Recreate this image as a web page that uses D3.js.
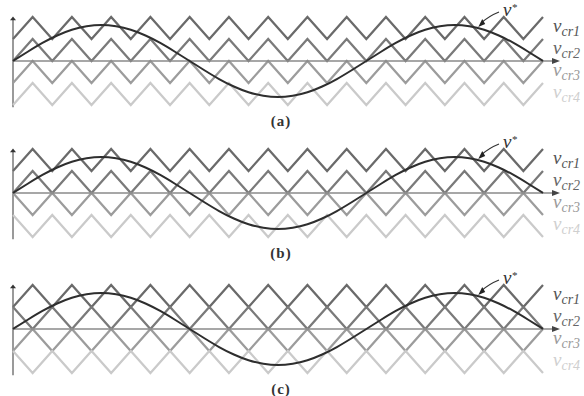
<!DOCTYPE html>
<html>
<head>
<meta charset="utf-8">
<script src="https://cdn.jsdelivr.net/npm/d3@7"></script>
<style>
  body { margin: 0; background: #fff; }
  svg { display: block; }
  .serif { font-family: "Liberation Serif", "DejaVu Serif", serif; }
</style>
</head>
<body>
<svg id="chart" width="584" height="396"></svg>
<script>
// panel captions and the carrier arrangement of each panel
const panelLabels = ["(a)", "(b)", "(c)"];
const panelZero = [61, 193, 329];           // pixel row of the zero line per panel
// 1 = carrier starts at the bottom of its band at the origin, 0 = starts at the top
const carrierStartsLow = [
  [1, 1, 1, 1],   // (a) phase disposition
  [1, 1, 0, 0],   // (b) phase opposition disposition
  [1, 0, 1, 0]    // (c) alternate phase opposition disposition
];
const carrierNames = ["cr1", "cr2", "cr3", "cr4"];
const carrierBands = [[1, 2], [0, 1], [-1, 0], [-2, -1]];
const carrierColors = ["#6a6a6a", "#7a7a7a", "#9c9c9c", "#cacaca"];
const labelColors = ["#555", "#666", "#9a9a9a", "#cfcfcf"];

// carrier vertex angles (deg) : carrier is 9x the reference, so a vertex every 20 deg
const carrierVertexDeg = d3.range(0, 541, 20);

// reference v* read every 15 deg from 0 to 540 deg (band units)
const refDeg = d3.range(0, 541, 15);
const refVal = [
  0, 0.42, 0.82, 1.16, 1.42, 1.58, 1.64, 1.58, 1.42, 1.16, 0.82, 0.42,
  0, -0.42, -0.82, -1.16, -1.42, -1.58, -1.64, -1.58, -1.42, -1.16, -0.82, -0.42,
  0, 0.42, 0.82, 1.16, 1.42, 1.58, 1.64, 1.58, 1.42, 1.16, 0.82, 0.42, 0
];

const svg = d3.select("#chart");

const x = d3.scaleLinear().domain([0, 540]).range([13, 543]);

panelLabels.forEach((lab, p) => {
  const z = panelZero[p];
  const y = d3.scaleLinear().domain([-2, 2]).range([z + 44, z - 44]);
  const g = svg.append("g");

  // y axis with arrow
  g.append("line")
    .attr("x1", x(0)).attr("x2", x(0))
    .attr("y1", y(-2.1)).attr("y2", y(1.9))
    .attr("stroke", "#9a9a9a").attr("stroke-width", 2);
  g.append("path")
    .attr("d", `M${x(0) - 3},${y(1.85)} L${x(0) + 3},${y(1.85)} L${x(0)},${y(2.02)} Z`)
    .attr("fill", "#333");

  // carriers
  carrierNames.forEach((name, i) => {
    const [lo, hi] = carrierBands[i];
    const low = carrierStartsLow[p][i];
    const pts = carrierVertexDeg.map((d, k) => [d, (k % 2 === 0) === (low === 1) ? lo : hi]);
    g.append("path")
      .datum(pts)
      .attr("fill", "none")
      .attr("stroke", carrierColors[i])
      .attr("stroke-width", 2.2)
      .attr("d", d3.line().x(d => x(d[0])).y(d => y(d[1])));

    const t = g.append("text")
      .attr("class", "serif")
      .attr("x", 553)
      .attr("y", y((lo + hi) / 2) + 4)
      .attr("fill", labelColors[i])
      .attr("font-style", "italic")
      .attr("font-size", 19);
    t.append("tspan").text("v");
    t.append("tspan").attr("dy", 4).attr("font-size", 14).text(name);
  });

  // x axis with arrow
  g.append("line")
    .attr("x1", x(0)).attr("x2", 553)
    .attr("y1", y(0)).attr("y2", y(0))
    .attr("stroke", "#8a8a8a").attr("stroke-width", 1.6);
  g.append("path")
    .attr("d", `M552,${y(0) - 3} L552,${y(0) + 3} L560,${y(0)} Z`)
    .attr("fill", "#444");

  // reference signal
  g.append("path")
    .datum(refDeg.map((d, k) => [d, refVal[k]]))
    .attr("fill", "none")
    .attr("stroke", "#2e2e2e")
    .attr("stroke-width", 2)
    .attr("d", d3.line().x(d => x(d[0])).y(d => y(d[1])).curve(d3.curveNatural));

  // v* annotation
  const tipX = x(474), tipY = y(1.55);
  g.append("path")
    .attr("d", `M499,${z - 49} Q489,${z - 45} ${tipX + 3},${tipY - 4}`)
    .attr("fill", "none").attr("stroke", "#333").attr("stroke-width", 1.2);
  g.append("path")
    .attr("d", `M${tipX},${tipY} l7,-3 l-3,-5 Z`)
    .attr("fill", "#222");
  const vs = g.append("text")
    .attr("class", "serif")
    .attr("x", 503).attr("y", z - 45)
    .attr("fill", "#333")
    .attr("font-style", "italic")
    .attr("font-size", 19);
  vs.append("tspan").text("v");
  vs.append("tspan").attr("dy", -5).attr("font-size", 11).text("*");

  // panel caption
  g.append("text")
    .attr("class", "serif")
    .attr("x", 281).attr("y", z + 65)
    .attr("text-anchor", "middle")
    .attr("fill", "#333")
    .attr("font-weight", "bold")
    .attr("font-size", 15)
    .attr("letter-spacing", 1)
    .text(lab);
});
</script>
</body>
</html>
